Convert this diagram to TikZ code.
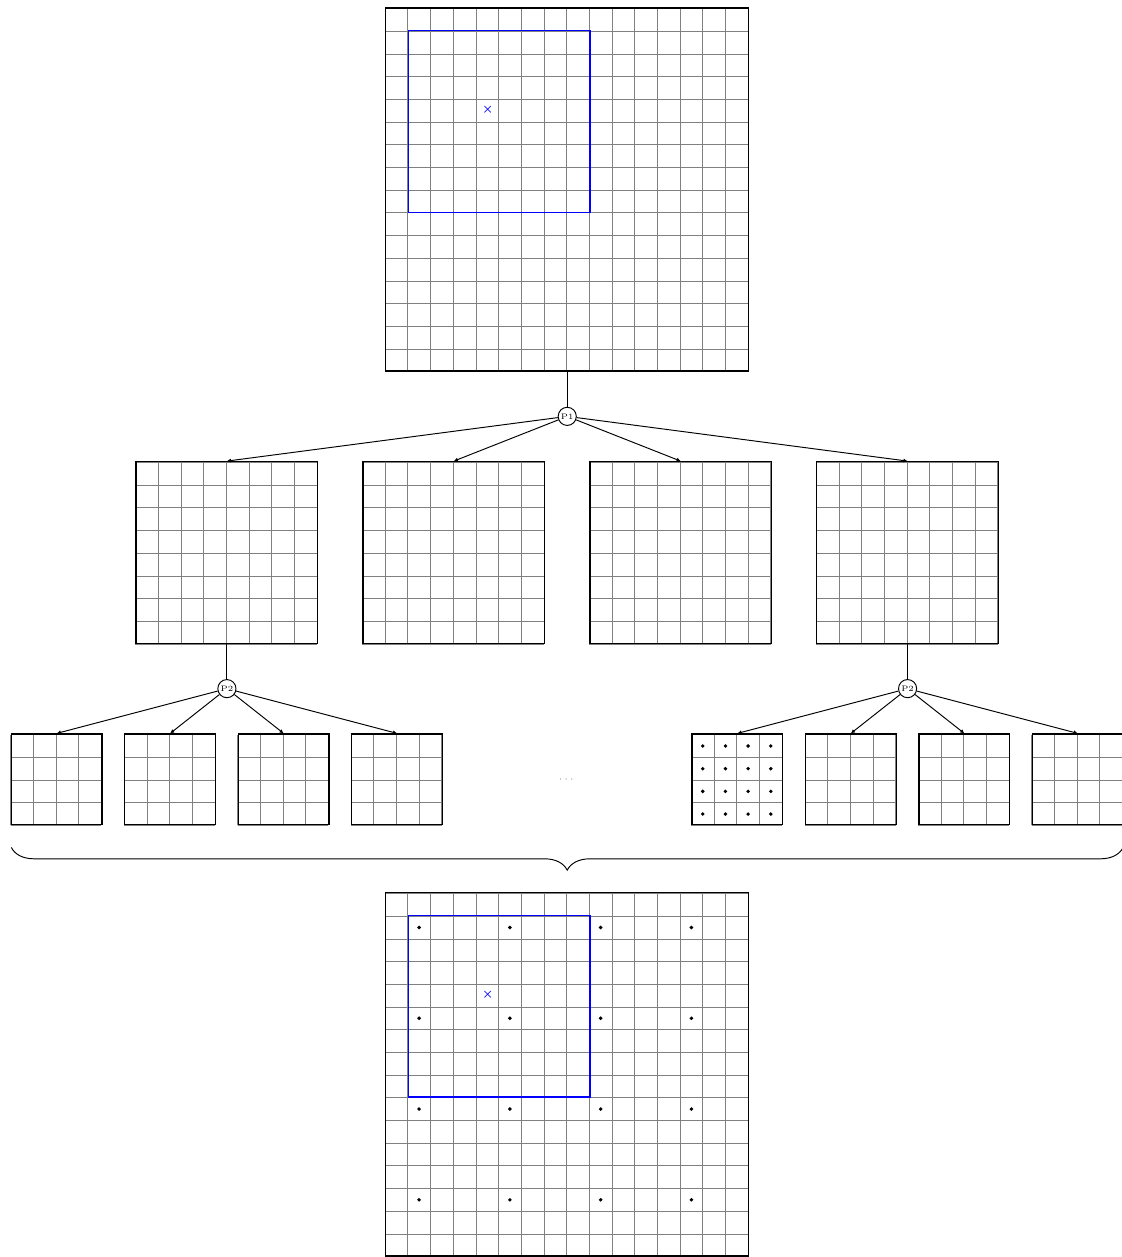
\documentclass[tikz,border=0pt]{standalone}
\usepackage{amsmath}
\usetikzlibrary{arrows.meta, backgrounds, decorations.pathreplacing}

\begin{document}
\begin{tikzpicture}[
        x=0.5cm, y=0.5cm,
        thick,
        map/.style={draw, thick, inner sep=0pt},
        big map/.style={map, minimum size=8cm},
        mid map/.style={map, minimum size=4cm},
        small map/.style={map, minimum size=2cm},
        cell lines/.style={draw=gray, thin, step=0.5cm},
        proc/.style={circle, draw, semithick, fill=white, minimum size=4mm, inner sep=0pt, font=\tiny},
        link/.style={semithick, -{Latex[length=0.9mm, width=0.9mm]}},
        window/.style={blue, thick},
        target/.style={text=blue, font=\scriptsize, inner sep=0pt},
        sample/.style={fill=black}
    ]

        \useasboundingbox (-17,0.35) rectangle (32.45,-55.05);

        % input map
        \node[big map] (in) at (8,-8) {};
        \node[proc] (p1) at (8,-18) {P1};

        % first split
        \node[mid map] (m1) at (-7,-24) {};
        \node[mid map] (m2) at (3,-24)  {};
        \node[mid map] (m3) at (13,-24) {};
        \node[mid map] (m4) at (23,-24) {};

        \node[proc] (p2a) at (-7,-30) {P2};
        \node[proc] (p2b) at (23,-30) {P2};

        % second split
        \node[small map] (s1) at (-14.5,-34) {};
        \node[small map] (s2) at (-9.5,-34)  {};
        \node[small map] (s3) at (-4.5,-34)  {};
        \node[small map] (s4) at (0.5,-34)   {};
        \node (etc) at (8,-34) {\tiny$\cdots$};
        \node[small map] (s5) at (15.5,-34) {};
        \node[small map] (s6) at (20.5,-34) {};
        \node[small map] (s7) at (25.5,-34) {};
        \node[small map] (s8) at (30.5,-34) {};

        % output map
        \node[big map] (out) at (8,-47) {};

        \begin{scope}[on background layer]
            \foreach \m in {in, out}
                \draw[cell lines, shift={(\m.south west)}] (0,0) grid (16,16);
            \foreach \m in {m1, m2, m3, m4}
                \draw[cell lines, shift={(\m.south west)}] (0,0) grid (8,8);
            \foreach \m in {s1, s2, s3, s4, s5, s6, s7, s8}
                \draw[cell lines, shift={(\m.south west)}] (0,0) grid (4,4);
        \end{scope}

        \draw[semithick] (in.south) -- (p1);
        \draw[semithick] (m1.south) -- (p2a);
        \draw[semithick] (m4.south) -- (p2b);
        \foreach \m in {m1, m2, m3, m4}
            \draw[link] (p1) -- (\m.north);
        \foreach \m in {s1, s2, s3, s4}
            \draw[link] (p2a) -- (\m.north);
        \foreach \m in {s5, s6, s7, s8}
            \draw[link] (p2b) -- (\m.north);

        % samples
        \foreach \i in {0.5, 1.5, 2.5, 3.5}
            \foreach \j in {0.5, 1.5, 2.5, 3.5}
                \fill[sample, shift={(s5.south west)}] (\i,\j) circle (1.2pt);
        \foreach \i in {1.5, 5.5, 9.5, 13.5}
            \foreach \j in {2.5, 6.5, 10.5, 14.5}
                \fill[sample, shift={(out.south west)}] (\i,\j) circle (1.2pt);

        % window and centre
        \draw[window] (1,-1) rectangle (9,-9);
        \draw[window] (1,-40) rectangle (9,-48);
        \node[target] (c1) at (4.5,-4.5)  {$\boldsymbol{\times}$};
        \node[target] (c2) at (4.5,-43.5) {$\boldsymbol{\times}$};

        \coordinate (brace l) at (-16.5,-37);
        \coordinate (brace r) at (32.5,-37);
        \draw[semithick, decorate, decoration={brace, mirror, amplitude=0.5cm}] (brace l) -- (brace r);
    \end{tikzpicture}
\end{document}
